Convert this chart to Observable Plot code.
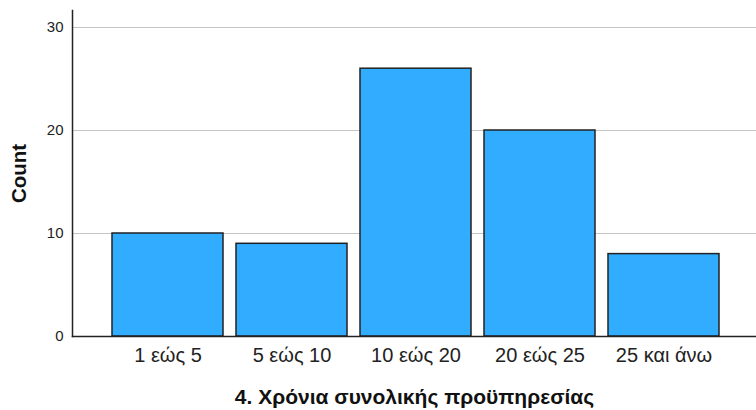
<!DOCTYPE html>
<html>
<head>
<meta charset="utf-8">
<script src="https://cdn.jsdelivr.net/npm/d3@7"></script>
<script src="https://cdn.jsdelivr.net/npm/@observablehq/plot@0.6"></script>
<style>
  html, body { margin: 0; padding: 0; background: #fff; }
  svg { font-family: "Liberation Sans", Arial, sans-serif; }
</style>
</head>
<body>
<div id="chart"></div>
<script>
const categories = ["1 εώς 5", "5 εώς 10", "10 εώς 20", "20 εώς 25", "25 και άνω"];
const counts = [10, 9, 26, 20, 8];
const yTicks = [0, 10, 20, 30];
const xTitle = "4. Χρόνια συνολικής προϋπηρεσίας";
const yTitle = "Count";

const data = categories.map((c, i) => ({cat: c, count: counts[i]}));

const chart = Plot.plot({
  width: 756,
  height: 410,
  marginLeft: 72,
  marginRight: 0,
  marginTop: 10,
  marginBottom: 74,
  style: {fontFamily: '"Liberation Sans", Arial, sans-serif', background: "#fff", color: "#222"},
  x: {type: "band", domain: categories, paddingInner: 0.105, paddingOuter: 0.31, align: 0.52},
  y: {domain: [0, 31.65]},
  marks: [
    Plot.gridY(yTicks.filter(d => d > 0), {stroke: "#c4c4c4", strokeOpacity: 1, strokeWidth: 1}),
    Plot.barY(data, {x: "cat", y: "count", fill: "#31acff", stroke: "#222", strokeWidth: 1.5}),
    Plot.frame({anchor: "left", stroke: "#222", strokeWidth: 1.5}),
    Plot.frame({anchor: "bottom", stroke: "#222", strokeWidth: 1.5}),
    Plot.axisY(yTicks, {tickSize: 0, tickPadding: 9, fontSize: 15, fill: "#222", label: null}),
    Plot.axisX({tickSize: 0, tickPadding: 11, fontSize: 20, fill: "#222", label: null}),
    Plot.text([xTitle], {text: d => d, frameAnchor: "bottom", dy: 67, fontSize: 21, fontWeight: "bold", fill: "#111"}),
    Plot.text([yTitle], {text: d => d, frameAnchor: "left", textAnchor: "middle", dx: -53, rotate: -90, fontSize: 20.5, fontWeight: "bold", fill: "#111"})
  ]
});
document.getElementById("chart").appendChild(chart);
</script>
</body>
</html>
